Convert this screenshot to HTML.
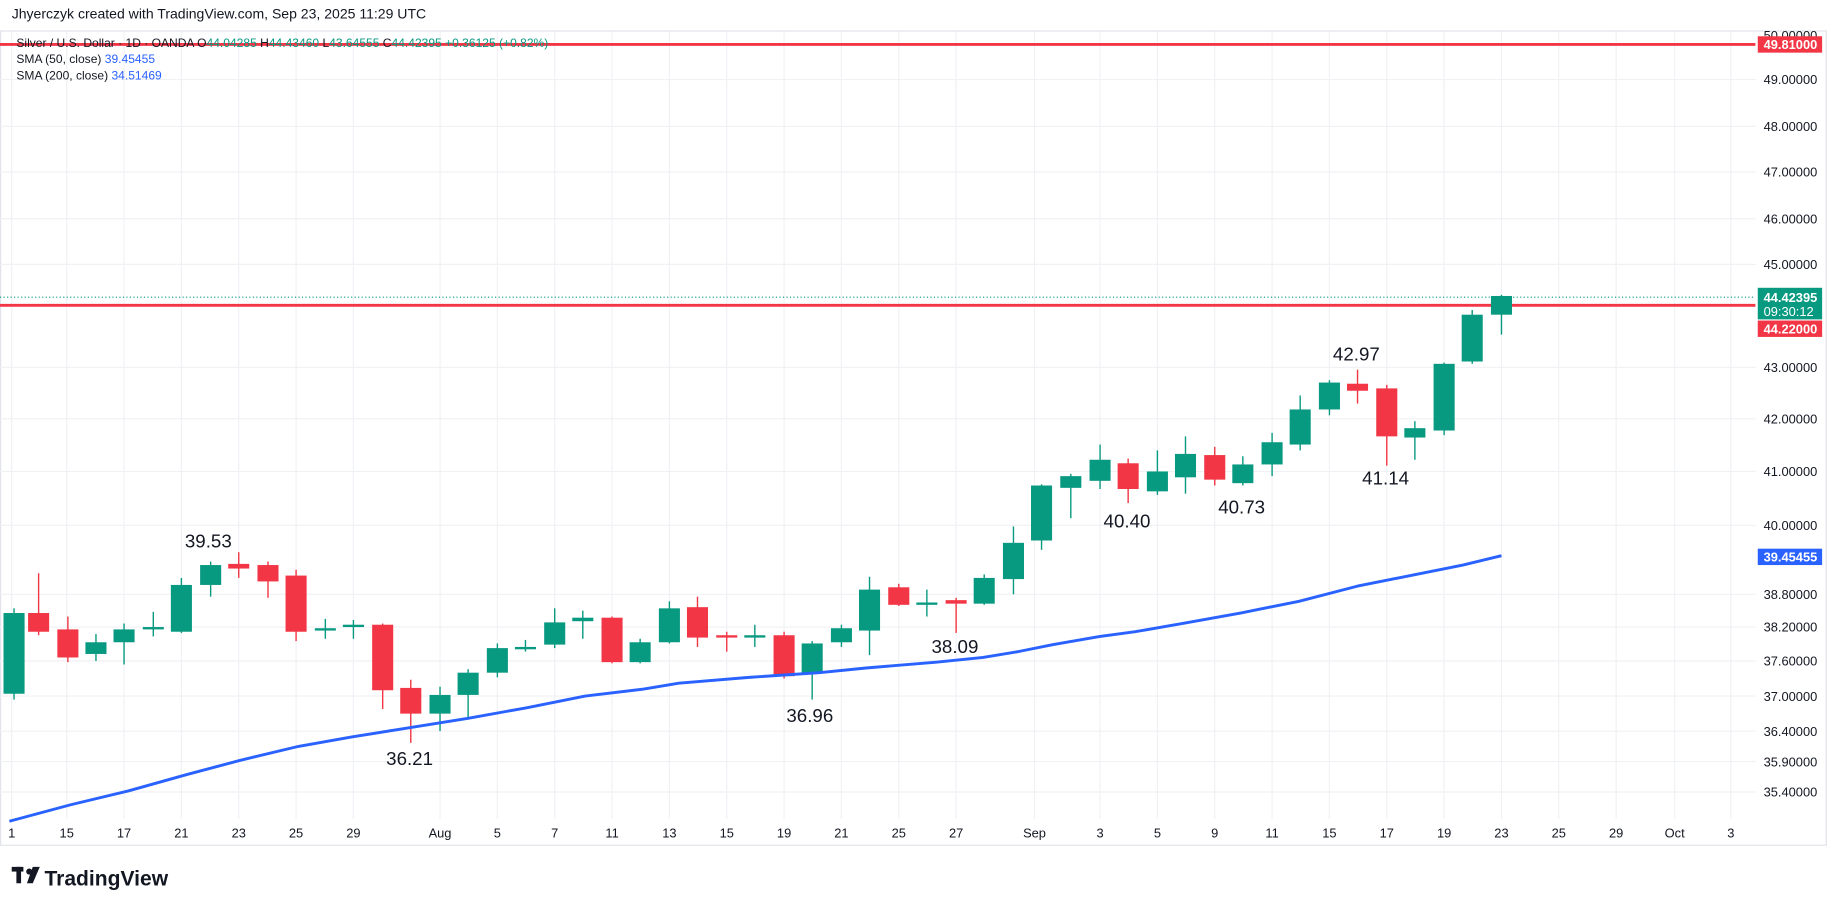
<!DOCTYPE html>
<html><head><meta charset="utf-8"><style>
html,body{margin:0;padding:0;background:#fff;overflow:hidden}
svg{display:block}
text{font-family:"Liberation Sans",sans-serif}
</style></head><body>
<svg width="1835" height="909" viewBox="0 0 1568 777" preserveAspectRatio="none" xmlns="http://www.w3.org/2000/svg">
<rect width="1568" height="777" fill="#fff"/>
<text x="10" y="16" font-size="12" fill="#131722">Jhyerczyk created with TradingView.com, Sep 23, 2025 11:29 UTC</text>
<rect x="0.5" y="26.5" width="1560" height="696" fill="none" stroke="#e0e3eb"/>
<g id="grid" stroke="#f0f1f4" stroke-width="1"></g>
<line x1="0" y1="254" x2="1500" y2="254" stroke="#089981" stroke-dasharray="1,2"/>
<line x1="0" y1="38" x2="1500" y2="38" stroke="#f23645" stroke-width="2.5"/>
<line x1="0" y1="261" x2="1500" y2="261" stroke="#f23645" stroke-width="2.5"/>
<g id="candles"></g>
<polyline fill="none" stroke="#2962ff" stroke-width="2.5" stroke-linejoin="round" points="8,702 60,688 110,676 160,662 205,650 255,638 300,630 350,622 400,614 450,605 500,595 550,589 580,584 640,579 700,575 740,571 800,566 840,562 870,557 900,551 940,544 970,540 1010,533 1060,524 1110,514 1160,501 1210,491 1250,483 1283,475"/>
<g font-size="16" fill="#131722" text-anchor="middle">
<text x="178" y="468">39.53</text><text x="350" y="654">36.21</text><text x="692" y="617">36.96</text>
<text x="816" y="558">38.09</text><text x="963" y="451">40.40</text><text x="1061" y="439">40.73</text>
<text x="1159" y="308">42.97</text><text x="1184" y="414">41.14</text></g>
<g font-size="10.3" fill="#131722">
<text x="14" y="40" fill="#131722">Silver / U.S. Dollar · 1D · OANDA  O<tspan fill="#089981">44.04285</tspan>  H<tspan fill="#089981">44.43460</tspan>  L<tspan fill="#089981">43.64555</tspan>  C<tspan fill="#089981">44.42395  +0.36125 (+0.82%)</tspan></text>
<text x="14" y="54">SMA (50, close) <tspan fill="#2962ff">39.45455</tspan></text>
<text x="14" y="68">SMA (200, close) <tspan fill="#2962ff">34.51469</tspan></text>
</g>
<g id="axis" font-size="11" fill="#131722"></g>
<g font-size="11" fill="#fff" font-weight="bold">
<rect x="1502" y="31" width="55" height="14" fill="#f23645"/><text x="1507" y="42">49.81000</text>
<rect x="1502" y="246" width="55" height="27" fill="#089981"/><text x="1507" y="258">44.42395</text><text x="1507" y="270" font-weight="normal">09:30:12</text>
<rect x="1502" y="274" width="55" height="14" fill="#f23645"/><text x="1507" y="285">44.22000</text>
<rect x="1502" y="469" width="55" height="14" fill="#2962ff"/><text x="1507" y="480">39.45455</text>
</g>
<g transform="translate(10,741)"><rect x="0" y="0" width="10" height="4" fill="#131722"/><rect x="4" y="0" width="4" height="14" fill="#131722"/><circle cx="15" cy="4" r="2.6" fill="#131722"/><path d="M18 0h6l-6 14h-5z" fill="#131722"/></g>
<text x="38" y="757" font-size="18" font-weight="bold" fill="#131722">TradingView</text>
</svg>
<script>
const NS="http://www.w3.org/2000/svg";
function el(p,t,a,txt){const e=document.createElementNS(NS,t);for(const k in a)e.setAttribute(k,a[k]);if(txt)e.textContent=txt;p.appendChild(e);return e;}
const grid=document.getElementById('grid'),axis=document.getElementById('axis');
const py=[[30,"50.00000"],[68,"49.00000"],[108,"48.00000"],[147,"47.00000"],[187,"46.00000"],[226,"45.00000"],[314,"43.00000"],[358,"42.00000"],[403,"41.00000"],[449,"40.00000"],[508,"38.80000"],[536,"38.20000"],[565,"37.60000"],[595,"37.00000"],[625,"36.40000"],[651,"35.90000"],[677,"35.40000"]];
py.forEach(([y,t])=>{if(y>30)el(grid,'line',{x1:0,x2:1500,y1:y,y2:y});el(axis,'text',{x:1507,y:y+4},t);});
const xl=[[10,"1"],[57,"15"],[106,"17"],[155,"21"],[204,"23"],[253,"25"],[302,"29"],[376,"Aug"],[425,"5"],[474,"7"],[523,"11"],[572,"13"],[621,"15"],[670,"19"],[719,"21"],[768,"25"],[817,"27"],[884,"Sep"],[940,"3"],[989,"5"],[1038,"9"],[1087,"11"],[1136,"15"],[1185,"17"],[1234,"19"],[1283,"23"],[1332,"25"],[1381,"29"],[1431,"Oct"],[1479,"3"]];
xl.forEach(([x,t])=>{el(grid,'line',{x1:x,x2:x,y1:27,y2:700});el(axis,'text',{x:x,y:716,'text-anchor':'middle'},t);});
const c=[[12,593,524,520,598],[33,524,540,490,543],[58,538,562,527,566],[82,559,549,542,565],[106,549,538,533,568],[131,538,536,523,544],[155,540,500,494,541],[180,500,483,480,510],[204,482,486,472,494],[229,483,497,480,511],[253,492,540,487,548],[278,539,537,529,546],[302,536,534,530,546],[327,534,590,533,606],[351,588,610,581,635],[376,610,594,587,625],[400,594,575,572,613],[425,575,554,550,579],[449,555,553,547,557],[474,551,532,520,554],[498,531,528,522,546],[523,528,566,527,567],[547,566,549,546,567],[572,549,520,514,550],[596,519,545,510,553],[621,543,545,540,557],[645,545,543,534,553],[670,543,578,540,580],[694,575,550,548,598],[719,549,537,534,553],[743,539,504,493,560],[768,502,517,499,518],[792,517,515,504,527],[817,513,516,511,541],[841,516,494,491,517],[866,495,464,450,508],[890,462,415,414,470],[915,417,407,405,443],[940,411,393,380,418],[964,396,418,392,430],[989,420,403,385,423],[1013,408,388,373,422],[1038,389,410,382,415],[1062,413,397,390,415],[1087,397,378,370,407],[1111,380,350,338,385],[1136,350,327,325,355],[1160,328,334,316,345],[1185,332,373,329,398],[1209,374,366,360,393],[1234,368,311,310,372],[1258,309,269,265,311],[1283,269,253,252,286]];
const g=document.getElementById('candles');
c.forEach(([x,o,cl,h,l])=>{const col=cl<=o?'#089981':'#f23645';
el(g,'line',{x1:x,x2:x,y1:h,y2:l,stroke:col,'stroke-width':1.2});
const t=Math.min(o,cl),b=Math.max(o,cl);el(g,'rect',{x:x-9,y:t,width:18,height:Math.max(b-t,2),fill:col});});
</script>
</body></html>
